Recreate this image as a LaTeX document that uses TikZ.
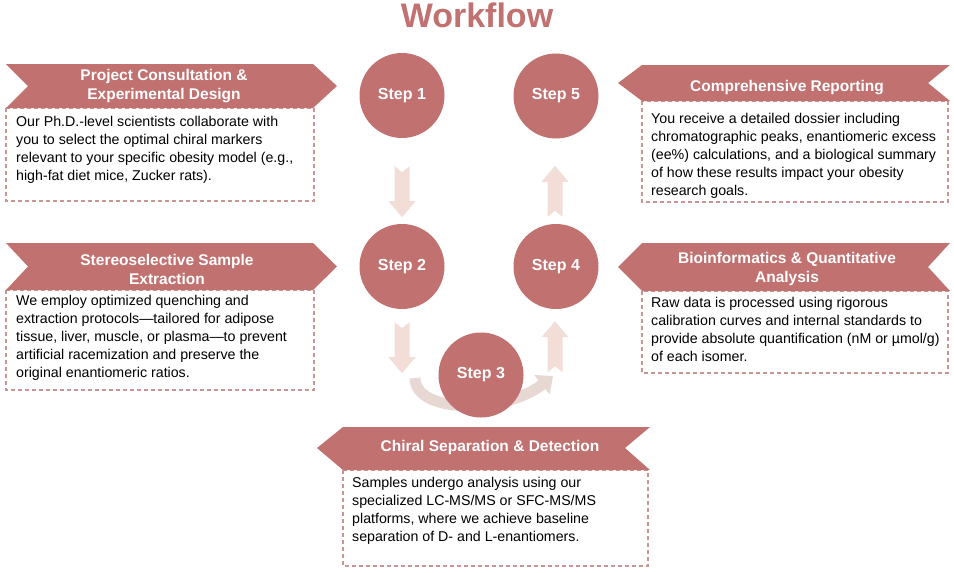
\documentclass[tikz,border=0pt]{standalone}
\usepackage{fontspec}
\setmainfont{Liberation Sans}
\usetikzlibrary{calc,arrows.meta}

\definecolor{rose}{HTML}{C1716F}
\definecolor{blush}{HTML}{F2DDD7}
\definecolor{band}{HTML}{E8D8D3}
\definecolor{dashrose}{HTML}{C99592}

\tikzset{
  stepnode/.style={circle, fill=rose, minimum size=85pt, inner sep=0pt, text=white,
    font=\fontsize{16}{18}\selectfont\bfseries},
  bannertext/.style={text=white, font=\fontsize{15.5}{19}\selectfont\bfseries,
    align=center, inner sep=0pt},
  bodytext/.style={anchor=north west, inner sep=0pt, align=left, text=black,
    font=\fontsize{14.2}{18}\selectfont},
  notebox/.style={draw=dashrose, dash pattern=on 4pt off 3pt, line width=1.1pt},
  banner/.style={fill=rose},
  % block arrow with notched tail, tail at the origin, pointing along +y
  pics/vblock/.style={code={
    \fill[blush] (-7.5,0) -- (0,6) -- (7.5,0) -- (7.5,35) -- (13.5,35) -- (0,51)
      -- (-13.5,35) -- (-7.5,35) -- cycle;}}
}

\begin{document}
\begin{tikzpicture}[x=1pt, y=-1pt]
\useasboundingbox (0,0) rectangle (954,573);

% title
\node (title) [text=rose, font=\fontsize{34}{38}\selectfont\bfseries] at (477,15) {Workflow};

% curved band under step 3
\coordinate (bandstart) at (415,378);
\coordinate (bandtip) at (553,376);
\draw[band, line width=11pt, -{Triangle[width=24pt,length=14pt]}]
  (bandstart) .. controls (415,414) and (505,414) .. (bandtip);

% steps
\node (s1) [stepnode] at (402,95.5) {Step 1};
\node (s5) [stepnode] at (556,96) {Step 5};
\node (s2) [stepnode] at (402,266.5) {Step 2};
\node (s4) [stepnode] at (556,266.5) {Step 4};
\node (s3) [stepnode] at (481,375) {Step 3};

% block arrows between the steps
\pic at ($(s1.south)+(0,28)$) {vblock};
\pic at ($(s2.south)+(0,13)$) {vblock};
\pic[rotate=180] at ($(s4.north)+(-1,-7)$) {vblock};
\pic[rotate=180] at ($(s4.south)+(-1,63)$) {vblock};

% ---- left column ----
\draw[notebox] (6,108) rectangle (314,201);
\fill[banner] (6,64) -- (313,64) -- (337,86) -- (313,108) -- (6,108) -- (28,86) -- cycle;
\node (b1) [bannertext] at (164,86.5) {Project Consultation \&\\Experimental Design};
\node (t1) [bodytext] at (16,116) {Our Ph.D.-level scientists collaborate with\\
you to select the optimal chiral markers\\
relevant to your specific obesity model (e.g.,\\
high-fat diet mice, Zucker rats).};

\draw[notebox] (6,290) rectangle (314,390);
\fill[banner] (6,243) -- (313,243) -- (337,266.5) -- (313,290) -- (6,290) -- (28,266.5) -- cycle;
\node (b2) [bannertext] at (167,269.5) {Stereoselective Sample\\Extraction};
\node (t2) [bodytext] at (16,295) {We employ optimized quenching and\\
extraction protocols---tailored for adipose\\
tissue, liver, muscle, or plasma---to prevent\\
artificial racemization and preserve the\\
original enantiomeric ratios.};

% ---- right column ----
\draw[notebox] (642,101) rectangle (948,202);
\fill[banner] (618,83) -- (642,65) -- (950,65) -- (928,83) -- (950,101) -- (642,101) -- cycle;
\node (b5) [bannertext] at (787,88) {Comprehensive Reporting};
\node (t5) [bodytext] at (651,113) {You receive a detailed dossier including\\
chromatographic peaks, enantiomeric excess\\
(ee\%) calculations, and a biological summary\\
of how these results impact your obesity\\
research goals.};

\draw[notebox] (642,291) rectangle (948,373);
\fill[banner] (618,267) -- (642,243) -- (950,243) -- (928,267) -- (950,291) -- (642,291) -- cycle;
\node (b4) [bannertext] at (787,268.5) {Bioinformatics \& Quantitative\\Analysis};
\node (t4) [bodytext] at (651,297) {Raw data is processed using rigorous\\
calibration curves and internal standards to\\
provide absolute quantification (nM or µmol/g)\\
of each isomer.};

% ---- bottom ----
\draw[notebox] (343,470) rectangle (648,566);
\fill[banner] (317,448) -- (343,427) -- (650,427) -- (625,448) -- (650,470) -- (343,470) -- cycle;
\node (b3) [bannertext] at (490,447) {Chiral Separation \& Detection};
\node (t3) [bodytext] at (352,477) {Samples undergo analysis using our\\
specialized LC-MS/MS or SFC-MS/MS\\
platforms, where we achieve baseline\\
separation of D- and L-enantiomers.};

\end{tikzpicture}
\end{document}
